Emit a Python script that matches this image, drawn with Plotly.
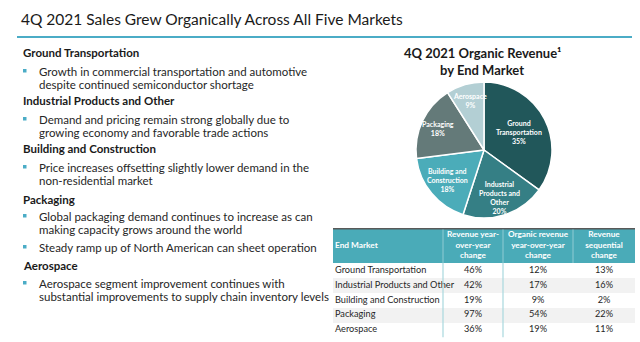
import math
import plotly.graph_objects as go

W, H = 640, 342

# ---- data -------------------------------------------------------------
markets = ["Ground Transportation", "Industrial Products and Other",
           "Building and Construction", "Packaging", "Aerospace"]
pie_labels = ["Ground<br>Transportation", "Industrial<br>Products and<br>Other",
              "Building and<br>Construction", "Packaging", "Aerospace"]
organic_share = [35, 20, 18, 18, 9]

rev_yoy = [46, 42, 19, 97, 36]
organic_yoy = [12, 17, 9, 54, 19]
rev_seq = [13, 16, 2, 22, 11]

table_headers = ["End Market",
                 "Revenue year-<br>over-year<br>change",
                 "Organic revenue<br>year-over-year<br>change",
                 "Revenue<br>sequential<br>change"]

commentary = [
    ("h", "Ground Transportation"),
    ("b", "Growth in commercial transportation and automotive"),
    ("c", "despite continued semiconductor shortage"),
    ("h", "Industrial Products and Other"),
    ("b", "Demand and pricing remain strong globally due to"),
    ("c", "growing economy and favorable trade actions"),
    ("h", "Building and Construction"),
    ("b", "Price increases offsetting slightly lower demand in the"),
    ("c", "non-residential market"),
    ("h", "Packaging"),
    ("b", "Global packaging demand continues to increase as can"),
    ("c", "making capacity grows around the world"),
    ("b", "Steady ramp up of North American can sheet operation"),
    ("h", "Aerospace"),
    ("b", "Aerospace segment improvement continues with"),
    ("c", "substantial improvements to supply chain inventory levels"),
]

# ---- layout constants (pixels) ----------------------------------------
FONT = "Lato"
TEAL = "#4AABB8"
RULE = "#4BACC6"
pie_colors = ["#21575A", "#357F85", "#4BACB9", "#647A79", "#B3CFD4"]
line_y = [53, 71, 84, 101, 119, 132, 149, 167, 180, 199, 216, 229, 247, 265, 283, 296]

PIE_CX, PIE_CY, PIE_R = 484, 150, 68
label_radius = [0.57, 0.74, 0.70, 0.74, 0.76]

TBL_L, TBL_R, TBL_T, TBL_B = 333, 635, 228, 337.5
col_edges = [333, 443, 503, 573, 635]
HEAD_H = 35
row_h = (TBL_B - TBL_T - HEAD_H) / len(markets)
row_edges = [TBL_T] + [TBL_T + HEAD_H + i * row_h for i in range(len(markets) + 1)]


def X(px):
    return px / W


def Y(py):
    return 1 - py / H


fig = go.Figure()

# ---- pie --------------------------------------------------------------
fig.add_trace(go.Pie(
    labels=markets, values=organic_share,
    textinfo="none", sort=False, direction="clockwise", rotation=0,
    marker=dict(colors=pie_colors, line=dict(color="white", width=1.5)),
    domain=dict(x=[X(PIE_CX - PIE_R), X(PIE_CX + PIE_R)],
                y=[Y(PIE_CY + PIE_R), Y(PIE_CY - PIE_R)]),
    showlegend=False, hoverinfo="label+percent",
))

annotations = []
total = sum(organic_share)
cum = 0
for lab, v, rf in zip(pie_labels, organic_share, label_radius):
    mid = (cum + v / 2) / total * 2 * math.pi
    cum += v
    lx = PIE_CX + rf * PIE_R * math.sin(mid)
    ly = PIE_CY - rf * PIE_R * math.cos(mid)
    annotations.append(dict(text=f"<b>{lab}<br>{round(v / total * 100)}%</b>",
                            x=X(lx), y=Y(ly), xanchor="center", yanchor="middle",
                            align="center",
                            font=dict(family=FONT, size=7, color="white")))

# ---- table: cell fills as a heatmap on its own axes --------------------
n = len(markets)
z = [[2] * 4] + [[i % 2] * 4 for i in range(n)]
fig.add_trace(go.Heatmap(
    x=col_edges, y=row_edges, z=z, zmin=0, zmax=2,
    colorscale=[[0, "white"], [0.5, "#F2F2F2"], [1, TEAL]],
    showscale=False, hoverinfo="skip", xaxis="x2", yaxis="y2",
))

col_centers = [(a + b) / 2 for a, b in zip(col_edges[:-1], col_edges[1:])]
row_centers = [(a + b) / 2 for a, b in zip(row_edges[1:-1], row_edges[2:])]
head_center = (row_edges[0] + row_edges[1]) / 2

# header text
fig.add_trace(go.Scatter(
    x=[col_edges[0] + 2], y=[head_center], mode="text",
    text=[f"<b>{table_headers[0]}</b>"], textposition="middle right",
    textfont=dict(family=FONT, size=8.3, color="white"),
    xaxis="x2", yaxis="y2", showlegend=False, hoverinfo="skip"))
fig.add_trace(go.Scatter(
    x=col_centers[1:], y=[head_center] * 3, mode="text",
    text=[f"<b>{h}</b>" for h in table_headers[1:]], textposition="middle center",
    textfont=dict(family=FONT, size=8.2, color="white"),
    xaxis="x2", yaxis="y2", showlegend=False, hoverinfo="skip"))

# body text
fig.add_trace(go.Scatter(
    x=[col_edges[0] + 2] * n, y=row_centers, mode="text",
    text=markets, textposition="middle right",
    textfont=dict(family=FONT, size=9.2, color="#262626"),
    xaxis="x2", yaxis="y2", showlegend=False, hoverinfo="skip"))
for ci, col in enumerate([rev_yoy, organic_yoy, rev_seq], start=1):
    fig.add_trace(go.Scatter(
        x=[col_centers[ci]] * n, y=row_centers, mode="text",
        text=[f"{v}%" for v in col], textposition="middle center",
        textfont=dict(family=FONT, size=9.2, color="#262626"),
        xaxis="x2", yaxis="y2", showlegend=False, hoverinfo="skip"))

shapes = []
# title rule
shapes.append(dict(type="line", xref="paper", yref="paper",
                   x0=X(17), x1=X(632), y0=Y(37), y1=Y(37),
                   line=dict(color=RULE, width=2)))
# table top border
shapes.append(dict(type="line", xref="x2", yref="y2",
                   x0=TBL_L, x1=TBL_R, y0=TBL_T + 0.5, y1=TBL_T + 0.5,
                   line=dict(color="#595959", width=2)))
# column separators
for cx in col_edges[1:3]:
    shapes.append(dict(type="line", xref="x2", yref="y2",
                       x0=cx, x1=cx, y0=row_edges[1], y1=TBL_B,
                       line=dict(color="#A8D8DE", width=1.2)))
for cx in col_edges[1:4]:
    shapes.append(dict(type="line", xref="x2", yref="y2",
                       x0=cx, x1=cx, y0=TBL_T + 1.5, y1=row_edges[1],
                       line=dict(color="#8FCBD3", width=1)))

annotations += [
    dict(text="4Q 2021 Sales Grew Organically Across All Five Markets",
         x=X(19), y=Y(19), xanchor="left", yanchor="middle",
         font=dict(family=FONT, size=15.5, color="#1A1A1A")),
    dict(text="<b>4Q 2021 Organic Revenue¹</b>", x=X(482), y=Y(53),
         xanchor="center", yanchor="middle",
         font=dict(family=FONT, size=13, color="#1A1A1A")),
    dict(text="<b>by End Market</b>", x=X(482), y=Y(70),
         xanchor="center", yanchor="middle",
         font=dict(family=FONT, size=13, color="#1A1A1A")),
]

for (kind, txt), yy in zip(commentary, line_y):
    if kind == "h":
        annotations.append(dict(text=f"<b>{txt}</b>", x=X(21), y=Y(yy),
                                xanchor="left", yanchor="middle",
                                font=dict(family=FONT, size=11.5, color="#1A1A1A")))
    else:
        annotations.append(dict(text=txt, x=X(37), y=Y(yy),
                                xanchor="left", yanchor="middle",
                                font=dict(family=FONT, size=11.5, color="#262626")))
        if kind == "b":
            shapes.append(dict(type="rect", xref="paper", yref="paper",
                               x0=X(23), x1=X(26.5), y0=Y(yy - 2), y1=Y(yy + 1.5),
                               fillcolor=RULE, line=dict(width=0)))

for a in annotations:
    a.update(xref="paper", yref="paper", showarrow=False)

fig.update_layout(
    width=W, height=H, margin=dict(l=0, r=0, t=0, b=0),
    paper_bgcolor="white", plot_bgcolor="white",
    shapes=shapes, annotations=annotations,
    xaxis=dict(visible=False),
    yaxis=dict(visible=False),
    xaxis2=dict(domain=[X(TBL_L), X(TBL_R)], range=[TBL_L, TBL_R], visible=False,
                anchor="y2", fixedrange=True),
    yaxis2=dict(domain=[Y(TBL_B), Y(TBL_T)], range=[TBL_B, TBL_T], visible=False,
                anchor="x2", fixedrange=True),
)

fig.write_html("out.html")
